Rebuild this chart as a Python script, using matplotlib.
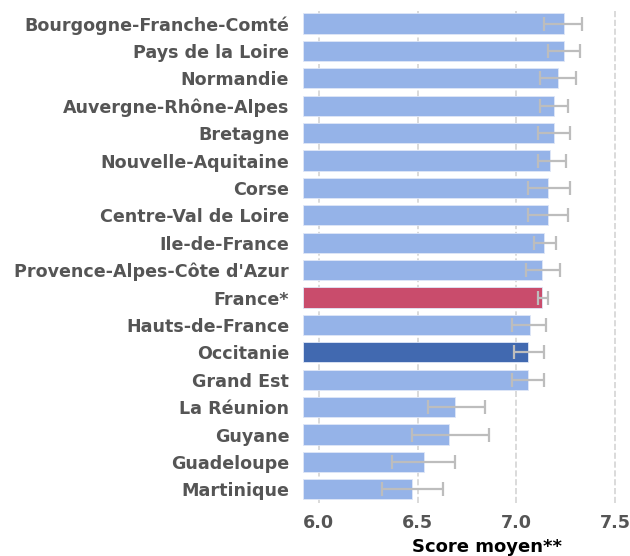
import numpy as np
import matplotlib
matplotlib.use('Agg')
import matplotlib.pyplot as plt

regions = ['Bourgogne-Franche-Comté', 'Pays de la Loire', 'Normandie', 'Auvergne-Rhône-Alpes',
           'Bretagne', 'Nouvelle-Aquitaine', 'Corse', 'Centre-Val de Loire', 'Ile-de-France',
           "Provence-Alpes-Côte d'Azur", 'France*', 'Hauts-de-France', 'Occitanie', 'Grand Est',
           'La Réunion', 'Guyane', 'Guadeloupe', 'Martinique']
scores = [7.24, 7.24, 7.21, 7.19, 7.19, 7.17, 7.16, 7.16, 7.14, 7.13, 7.13, 7.07, 7.06, 7.06,
          6.69, 6.66, 6.53, 6.47]
ci_low = [7.14, 7.16, 7.12, 7.12, 7.11, 7.11, 7.06, 7.06, 7.09, 7.05, 7.11, 6.98, 6.99, 6.98,
          6.555, 6.47, 6.37, 6.32]
ci_high = [7.33, 7.32, 7.30, 7.26, 7.27, 7.25, 7.27, 7.26, 7.20, 7.22, 7.16, 7.15, 7.14, 7.14,
           6.84, 6.86, 6.69, 6.63]

def main():
    fig = plt.figure(figsize=(6.3, 5.56), dpi=100)
    ax = fig.add_axes([0.481, 0.0953, 0.511, 0.887])
    y = np.arange(len(regions))
    colors = []
    for r in regions:
        if r == 'France*':
            colors.append('#c94c6c')
        elif r == 'Occitanie':
            colors.append('#4169b0')
        else:
            colors.append('#95b3e8')
    s = np.array(scores)
    err = np.vstack([s - np.array(ci_low), np.array(ci_high) - s])
    ax.barh(y, s - 5.92, left=5.92, height=0.74, color=colors, edgecolor='#dfe7f7', linewidth=0.6, zorder=2)
    ax.errorbar(s, y, xerr=err, fmt='none', ecolor='#bdbdbd', elinewidth=1.6, capsize=5, capthick=1.6, zorder=3)
    ax.set_xlim(5.92, 7.55)
    ax.set_ylim(len(regions) - 0.5, -0.5)
    ax.set_xticks([6.0, 6.5, 7.0, 7.5])
    ax.set_xticklabels(['6.0', '6.5', '7.0', '7.5'])
    ax.set_yticks(y)
    ax.set_yticklabels(regions)
    for lab in ax.get_yticklabels():
        lab.set_fontweight('bold')
        lab.set_fontsize(12.6)
        lab.set_color('#555555')
    for lab in ax.get_xticklabels():
        lab.set_fontweight('bold')
        lab.set_fontsize(12.6)
        lab.set_color('#555555')
    ax.tick_params(axis='both', length=0, pad=8)
    ax.tick_params(axis='y', pad=10)
    ax.grid(axis='x', color='#d4d4d4', linestyle='--', linewidth=1.2, zorder=0)
    ax.set_axisbelow(True)
    for sp in ax.spines.values():
        sp.set_visible(False)
    ax.set_xlabel('Score moyen**', fontsize=13, fontweight='bold', color='black', labelpad=2)
    ax.xaxis.set_label_coords(0.571, -0.07)
    plt.savefig('out.png', dpi=100)
    plt.close()

if __name__ == '__main__':
    main()
